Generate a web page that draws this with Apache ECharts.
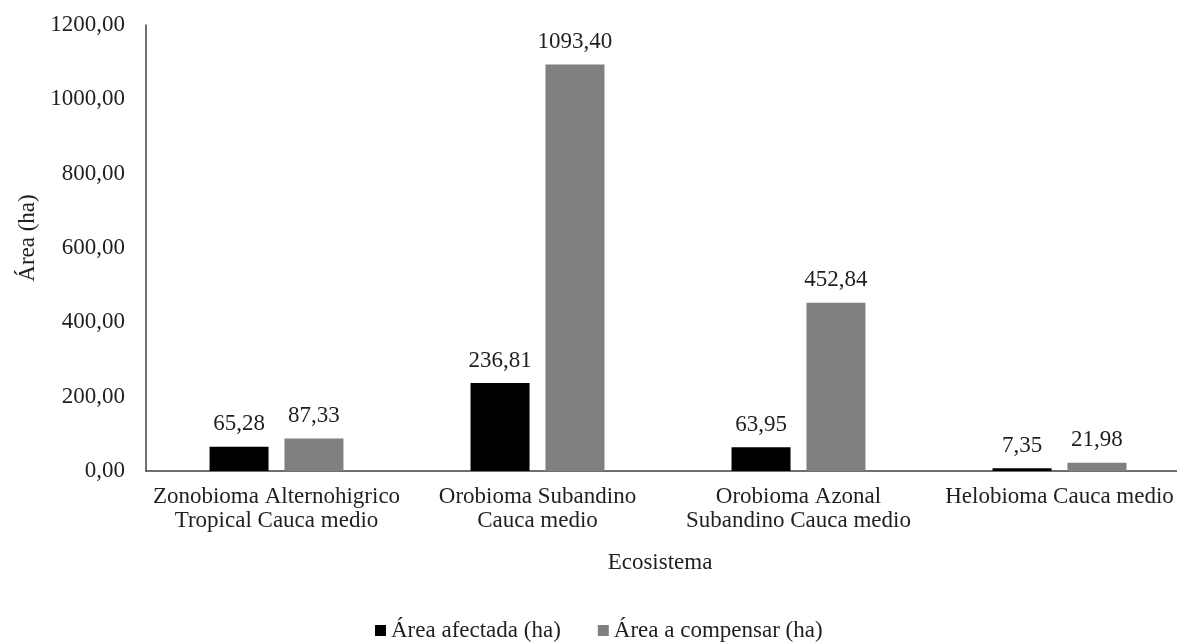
<!DOCTYPE html>
<html>
<head>
<meta charset="utf-8">
<script src="https://cdn.jsdelivr.net/npm/echarts@6/dist/echarts.min.js"></script>
<style>
  html, body { margin: 0; padding: 0; background: #ffffff; overflow: hidden; }
  /* drawing surface runs slightly past the right edge of the window */
  #chart { width: 1190px; height: 644px; }
</style>
</head>
<body>
<div id="chart"></div>
<script>
// Ecosystem categories (two-line labels where the name wraps)
const categories = [
  'Zonobioma Alternohigrico\nTropical Cauca medio',
  'Orobioma Subandino\nCauca medio',
  'Orobioma Azonal\nSubandino Cauca medio',
  'Helobioma Cauca medio'
];
const seriesNames = ['Área afectada (ha)', 'Área a compensar (ha)'];
const areaAfectada = [65.28, 236.81, 63.95, 7.35];
const areaCompensar = [87.33, 1093.40, 452.84, 21.98];
const yTicks = { min: 0, max: 1200, interval: 200 };

const FONT = '"Liberation Serif", "Times New Roman", serif';
const TEXT = '#1f1f1f';
const FS = 23;
const fmt = v => Number(v).toFixed(2).replace('.', ',');

const chart = echarts.init(document.getElementById('chart'), null, { renderer: 'canvas' });

const labelStyle = {
  show: true,
  position: 'top',
  distance: 11,
  color: TEXT,
  fontFamily: FONT,
  fontSize: FS,
  formatter: p => fmt(p.value)
};

chart.setOption({
  animation: false,
  backgroundColor: '#ffffff',
  textStyle: { fontFamily: FONT },
  grid: { left: 146, right: 0, top: 25, height: 446, containLabel: false },
  legend: {
    top: 614,
    left: 370,
    itemWidth: 11,
    itemHeight: 11,
    itemGap: 37,
    icon: 'rect',
    textStyle: { fontFamily: FONT, fontSize: FS, color: TEXT },
    data: seriesNames
  },
  xAxis: {
    type: 'category',
    data: categories,
    name: 'Ecosistema',
    nameLocation: 'middle',
    nameGap: 80,
    nameTextStyle: { fontFamily: FONT, fontSize: FS, color: TEXT, padding: [0, 16, 0, 0] },
    axisLine: { lineStyle: { color: '#404040', width: 1.5 } },
    axisTick: { show: false },
    axisLabel: {
      interval: 0,
      color: TEXT,
      fontFamily: FONT,
      fontSize: FS,
      lineHeight: 24,
      margin: 14
    }
  },
  yAxis: {
    type: 'value',
    min: yTicks.min,
    max: yTicks.max,
    interval: yTicks.interval,
    name: 'Área (ha)',
    nameLocation: 'middle',
    nameRotate: 90,
    nameGap: 107,
    nameTextStyle: { fontFamily: FONT, fontSize: FS, color: TEXT, padding: [0, 0, 0, 20] },
    axisLine: { show: true, lineStyle: { color: '#404040', width: 1.5 } },
    axisTick: { show: false },
    splitLine: { show: false },
    axisLabel: {
      color: TEXT,
      fontFamily: FONT,
      fontSize: FS,
      margin: 21,
      formatter: v => fmt(v)
    }
  },
  series: [
    {
      name: seriesNames[0],
      type: 'bar',
      data: areaAfectada,
      barWidth: 59,
      barGap: '27%',
      itemStyle: { color: '#000000' },
      label: labelStyle
    },
    {
      name: seriesNames[1],
      type: 'bar',
      data: areaCompensar,
      barWidth: 59,
      barGap: '27%',
      itemStyle: { color: '#808080' },
      label: labelStyle
    }
  ]
});
</script>
</body>
</html>
